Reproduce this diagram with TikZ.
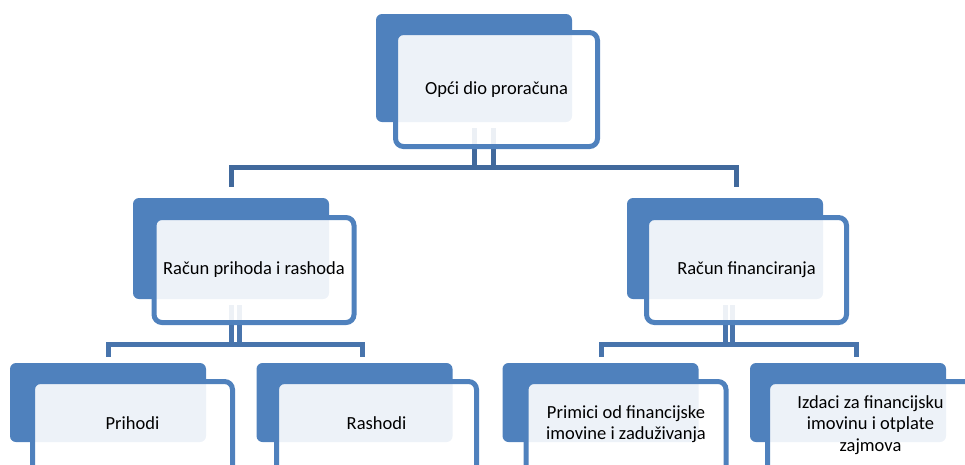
\documentclass[tikz,border=0pt]{standalone}
\usepackage{fontspec}
\setmainfont{Carlito}
\usetikzlibrary{calc}
\definecolor{acc}{HTML}{4F81BD}
\definecolor{conn}{HTML}{41699C}
\definecolor{conntwo}{HTML}{4874AC}
\tikzset{
 backbox/.style={fill=acc, rounded corners=6pt, inner sep=0pt, outer sep=0pt, minimum width=196pt},
 frontbox/.style={draw=acc, line width=5pt, fill=white, fill opacity=0.9, draw opacity=1, text opacity=1,
   rounded corners=8pt, inner sep=0pt, outer sep=0pt, minimum width=200pt,
   font=\fontsize{18.5}{21.5}\selectfont, align=center, text=black},
 label text/.style={inner sep=0pt, font=\fontsize{18.5}{21.5}\selectfont, align=center, text=black},
 link/.style={draw=conn, line width=5pt},
 linktwo/.style={draw=conntwo, line width=5pt},
}
\begin{document}
\begin{tikzpicture}[x=1pt,y=-1pt]
\useasboundingbox (0,0) rectangle (965,464);
\clip (0,0) rectangle (965,464);
% back boxes
\node[backbox, minimum height=108pt] (b0) at (474,68) {};
\node[backbox, minimum height=101pt] (b1) at (231,248.5) {};
\node[backbox, minimum height=101pt] (b2) at (725,248.5) {};
\node[backbox, minimum height=79pt] (b3) at (108,402.5) {};
\node[backbox, minimum height=79pt] (b4) at (354.5,402.5) {};
\node[backbox, minimum height=79pt] (b5) at (600.5,402.5) {};
\node[backbox, minimum height=79pt] (b6) at (848,402.5) {};
% connectors
\draw[link] ($(b0.south)+(19.5,6)$) -- ($(b0.south)+(19.5,45.5)$) -| ($(b1.north)+(0,-11)$);
\draw[link] ($(b0.south)+(0.5,6)$) -- ($(b0.south)+(0.5,45.5)$) -| ($(b2.north)+(11.5,-11)$);
\draw[linktwo] ($(b1.south)+(8.7,6)$) -- ($(b1.south)+(8.7,45.5)$) -| ($(b3.north)+(0,-6)$);
\draw[linktwo] ($(b1.south)+(0.7,6)$) -- ($(b1.south)+(0.7,45.5)$) -| ($(b4.north)+(8,-6)$);
\draw[linktwo] ($(b2.south)+(7.5,6)$) -- ($(b2.south)+(7.5,45.5)$) -| ($(b5.north)+(0.5,-6)$);
\draw[linktwo] ($(b2.south)+(0,6)$) -- ($(b2.south)+(0,45.5)$) -| ($(b6.north)+(8,-6)$);
% front boxes
\node[frontbox, minimum width=202pt, minimum height=114pt] (f0) at (496.5,89.5) {Opći dio proračuna};
\node[frontbox, minimum height=105pt] (f1) at (254,270) {Račun prihoda i rashoda};
\node[frontbox, minimum height=105pt] (f2) at (746.5,270) {Račun financiranja};
\node[frontbox, minimum height=100pt] (f3) at (132.5,431.5) {};
\node[frontbox, minimum height=100pt] (f4) at (376.5,431.5) {};
\node[frontbox, minimum height=100pt] (f5) at (626,431.5) {};
\node[frontbox, minimum width=210pt, minimum height=100pt] (f6) at (872.5,431.5) {};
\node[label text] (t3) at (132.5,423) {Prihodi};
\node[label text] (t4) at (376.5,423) {Rashodi};
\node[label text] (t5) at (626,424) {Primici od financijske\\imovine i zaduživanja};
\node[label text] (t6) at (870.5,425) {Izdaci za financijsku\\imovinu i otplate\\zajmova};
\end{tikzpicture}
\end{document}
